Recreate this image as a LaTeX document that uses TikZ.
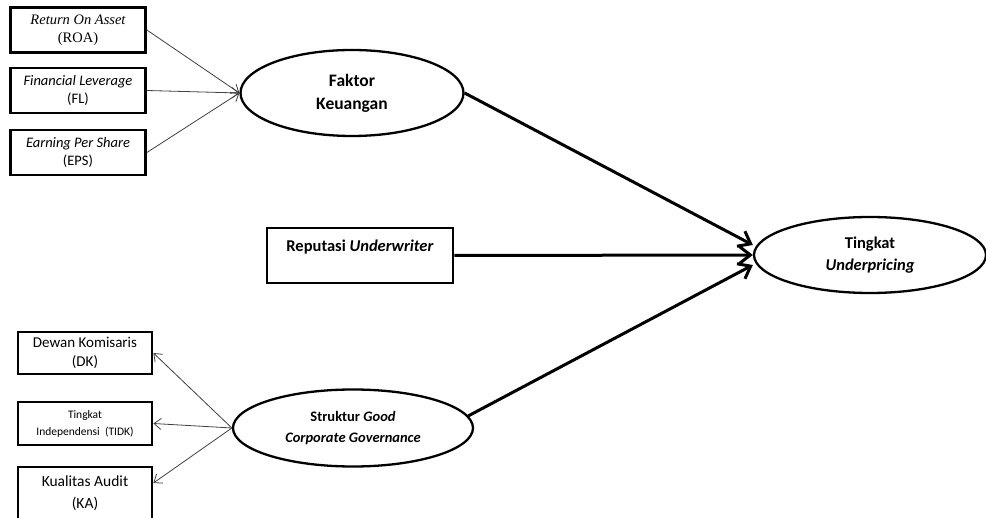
\documentclass[tikz,border=0pt]{standalone}
\usepackage{fontspec}
\setmainfont{Carlito}
\newfontfamily\timesfont{Liberation Serif}
\usetikzlibrary{shapes.geometric,arrows.meta}

\tikzset{
  indbox/.style={draw, line width=2.8pt, minimum width=135pt, minimum height=45pt,
    align=center, inner sep=0pt},
  latent/.style={draw, ellipse, line width=2.3pt, align=center, inner sep=0pt,
    font=\bfseries},
  thinarrow/.style={-{Straight Barb[length=7pt,width=11pt]}, line width=0.8pt, black!75},
  thickarrow/.style={-{Straight Barb[length=11pt,width=17pt]}, line width=3pt},
}

\begin{document}
\begin{tikzpicture}[x=1pt, y=-1pt]

  \useasboundingbox (0,0) rectangle (986,518);

  % -- Faktor keuangan indicators --
  \node[indbox, font=\timesfont\fontsize{14.5}{18}\selectfont] (roa) at (78,30)
    {{\itshape Return On Asset}\\(ROA)};
  \node[indbox, font=\fontsize{14.5}{18}\selectfont] (fl) at (78,90.5)
    {\textit{Financial Leverage}\\(FL)};
  \node[indbox, font=\fontsize{14.5}{18}\selectfont] (eps) at (78,152.5)
    {\textit{Earning Per Share}\\(EPS)};

  % -- Latent variables --
  \node[latent, minimum width=223pt, minimum height=86pt,
    font=\bfseries\fontsize{17.5}{23}\selectfont] (fk) at (352,93) {Faktor\\Keuangan};
  \node[latent, minimum width=240pt, minimum height=77pt,
    font=\bfseries\fontsize{14.5}{21}\selectfont] (gcg) at (353,428)
    {Struktur \textit{Good}\\\textit{Corporate Governance}};
  \node[latent, minimum width=232pt, minimum height=76pt,
    font=\bfseries\fontsize{16.5}{22}\selectfont] (tu) at (870,255)
    {Tingkat\\\textit{Underpricing}};

  % -- Reputasi underwriter (text sits high in the box) --
  \node[draw, line width=2.8pt, minimum width=186pt, minimum height=55pt, inner sep=0pt,
    text height=12pt, text depth=19pt, font=\bfseries\fontsize{16.5}{20}\selectfont]
    (ru) at (360,255.5) {Reputasi \textit{Underwriter}};

  % -- Struktur GCG indicators --
  \node[indbox, minimum width=134pt, minimum height=42pt,
    font=\fontsize{15}{19}\selectfont] (dk) at (85,353) {Dewan Komisaris\\(DK)};
  \node[indbox, minimum width=134pt, minimum height=43pt,
    font=\fontsize{11.5}{17}\selectfont] (tidk) at (85,423.5)
    {Tingkat\\Independensi~~(TIDK)};
  \node[indbox, minimum width=134pt, minimum height=52pt,
    font=\fontsize{15.5}{22}\selectfont] (ka) at (85,493) {Kualitas Audit\\(KA)};

  % Reflective / formative links
  \draw[thinarrow] (roa.east) -- (fk.west);
  \draw[thinarrow] (fl.east) -- (fk.west);
  \draw[thinarrow] (eps.east) -- (fk.west);
  \draw[thinarrow] (gcg.west) -- (dk.east);
  \draw[thinarrow] (gcg.west) -- (tidk.east);
  \draw[thinarrow] (gcg.west) -- ([yshift=10pt]ka.east);

  % Paths to underpricing
  \draw[thickarrow] (fk.east) -- ([yshift=10pt]tu.west);
  \draw[thickarrow] (ru.east) -- (tu.west);
  \draw[thickarrow] (gcg.6) -- ([yshift=-10pt]tu.west);

\end{tikzpicture}
\end{document}
